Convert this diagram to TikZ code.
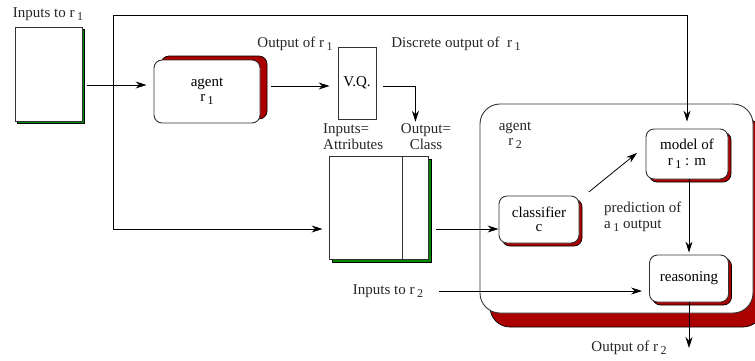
\documentclass[tikz,border=0pt]{standalone}
\usepackage{fontspec}
\setmainfont{Liberation Serif}
\usepackage{tikz}
\usetikzlibrary{calc,positioning,arrows.meta,shadows}
\definecolor{shadowred}{RGB}{170,0,0}
\definecolor{shadowgreen}{RGB}{0,135,0}
\def\lsub#1{\,\raisebox{-0.45ex}{\fontsize{12}{12}\selectfont #1}}
\tikzset{plainbox/.style={rectangle, draw=black!80, fill=white, line width=0.9pt, inner sep=0pt}}
\tikzset{agentbox/.style={rectangle, rounded corners=8pt, draw=black!80, fill=white,
  line width=0.9pt, inner sep=2pt, align=center}}
\tikzset{greenshadow/.style={general shadow={fill=shadowgreen, draw=black, line width=0.7pt,
  shadow xshift=#1, shadow yshift=-#1}}}
\tikzset{redshadow/.style={general shadow={fill=shadowred, draw=black, line width=0.7pt,
  shadow xshift=3pt, shadow yshift=-3pt}}}
\tikzset{lbl/.style={inner sep=2pt, text=black!85}}

\begin{document}
\begin{tikzpicture}[x=1pt,y=-1pt,font=\fontsize{15}{16}\selectfont,>={Stealth[length=11pt,width=7pt]}]
  \useasboundingbox (0,0) rectangle (755,360);
  % left side: inputs, agent r1 and the quantiser
  \node[plainbox, greenshadow=2.5pt, minimum width=67pt, minimum height=94pt] (inbox) at (48.5,74) {};
  \node[lbl] (inlbl) at (48,14) {Inputs to r\lsub{1}};
  \node[agentbox, minimum width=106pt, minimum height=63pt,
    general shadow={fill=shadowred, draw=black, line width=0.7pt, shadow xshift=7pt, shadow yshift=4pt}]
    (agent1) at (207,91.5) {agent\\[-1pt]r\lsub{1}};
  \node[plainbox, minimum width=38pt, minimum height=72pt] (vq) at (357,83) {V.Q.};
  \node[lbl] (out1) at (295,44) {Output of r\lsub{1}};
  \node[lbl] (disc) at (456,44) {Discrete output of \ r\lsub{1}};
  % training table
  \node[lbl, align=left, anchor=west] (attr) at (321,137) {Inputs=\\Attributes};
  \node[lbl, align=center] (cls) at (426,137) {Output=\\Class};
  \node[plainbox, greenshadow=3.5pt, minimum width=99pt, minimum height=103pt] (table) at (378.5,207.5) {};
  \draw[black!80, line width=0.9pt] ([xshift=-26pt]table.north east) -- ([xshift=-26pt]table.south east);
  \coordinate (outcol) at ([xshift=-13pt]table.north east);
  % agent r2
  \node[agentbox, rounded corners=20pt, minimum width=273pt, minimum height=209pt,
    general shadow={fill=shadowred, draw=black, line width=0.7pt, shadow xshift=10pt, shadow yshift=-14pt}]
    (agent2) at (616.5,208.5) {};
  \node[lbl, align=center] (agent2lbl) at (515,135) {agent\\[-1pt]r\lsub{2}};
  \node[agentbox, redshadow, minimum width=80pt, minimum height=47pt] (classifier) at (539,219.5) {classifier\\[-2pt]c};
  \node[agentbox, redshadow, minimum width=82pt, minimum height=50pt] (model) at (687,154) {model of\\r\lsub{1} : m};
  \node[agentbox, redshadow, minimum width=79pt, minimum height=47pt] (reasoning) at (689,278.5) {reasoning};
  \node[lbl, align=left, anchor=west] (pred) at (602,217) {prediction of\\a\lsub{1} output};
  \node[lbl] (in2) at (388,291) {Inputs to r\lsub{2}};
  \node[lbl] (out2) at (629,348) {Output of r\lsub{2}};
  % connectors
  \coordinate (split) at (113,85);
  \coordinate (topleft) at (113,15);
  \coordinate (tabrow) at (113,229);
  \draw[->,line width=0.8pt,shorten <=5pt,shorten >=7pt] (inbox.east |- split) -- (agent1.west |- split);
  \draw[->,line width=0.8pt,shorten >=7pt] (split) -- (topleft) -| (model.north);
  \draw[->,line width=0.8pt,shorten >=6pt] (split) -- (tabrow) -- (table.west |- tabrow);
  \draw[->,line width=0.8pt,shorten <=8pt] (table.east |- tabrow) -- (classifier.west |- tabrow);
  \draw[->,line width=0.8pt,shorten <=11pt,shorten >=8pt] ([yshift=5.5pt]agent1.east) -- ([yshift=5.5pt]agent1.east -| vq.west);
  \draw[->,line width=0.8pt,shorten <=7pt] ([yshift=5.5pt]agent1.east -| vq.east) -| (outcol |- cls.north);
  \draw[->,line width=0.8pt,shorten <=12pt,shorten >=11pt] ([yshift=-4pt]classifier.north east) -- ([yshift=8pt]model.west);
  \draw[->,line width=0.8pt,shorten >=2pt] (reasoning.north |- model.south) -- (reasoning.north);
  \draw[->,line width=0.8pt,shorten <=14pt,shorten >=7pt] (in2.east) -- (in2.east -| reasoning.west);
  \draw[->,line width=0.8pt] (reasoning.south) -- (reasoning.south |- out2.center);
\end{tikzpicture}
\end{document}
